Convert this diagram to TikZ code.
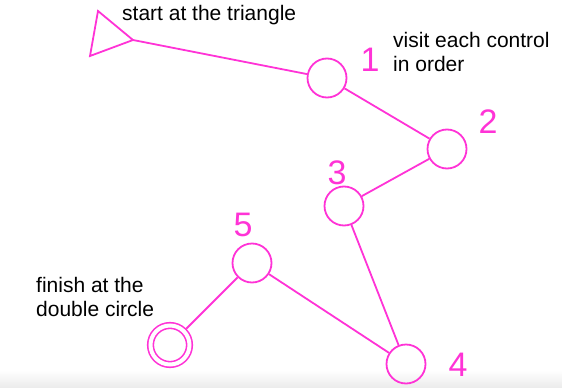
\documentclass[tikz,border=0pt]{standalone}
\usepackage{fontspec}
\setmainfont{Liberation Sans}
\usepackage{xcolor}
\usepackage{tikz}
\usetikzlibrary{positioning}
\definecolor{course}{RGB}{255,51,214}

\begin{document}
\begin{tikzpicture}[x=1pt, y=-1pt,
  ctrl/.style={circle, draw=course, line width=1.8pt, minimum size=39pt, inner sep=0pt},
  num/.style={text=course, font=\fontsize{34}{34}\selectfont, inner sep=0pt},
  note/.style={anchor=west, align=left, inner sep=0pt, font=\fontsize{21}{24}\selectfont}]
\useasboundingbox (0,0) rectangle (562,388);
\shade[top color=white, bottom color=black!8] (0,370) rectangle (562,388);
% start triangle
\coordinate (tri) at (133,40);
\draw[course, line width=1.8pt, line join=miter] (98,11) -- (tri) -- (90,56) -- cycle;
% controls
\node[ctrl] (c1) at (327,78) {};
\node[ctrl] (c2) at (447,149) {};
\node[ctrl] (c3) at (344,206) {};
\node[ctrl] (c4) at (406,364) {};
\node[ctrl] (c5) at (252,263) {};
\node[ctrl, double=white, double distance=4pt, line width=1.6pt, outer sep=3.6pt] (fin) at (170,345) {};
\foreach \a/\b in {tri/c1, c1/c2, c2/c3, c3/c4, c4/c5, c5/fin}
  \draw[course, line width=1.8pt] (\a) -- (\b);
% numbers
\node[num] (n1) at (370,60) {1};
\node[num] (n2) at (488,122) {2};
\node[num] (n3) at (337,173) {3};
\node[num] (n4) at (458,365) {4};
\node[num] (n5) at (243,225) {5};
% notes
\node[note] (start) at (122,15) {start at the triangle};
\node[note] (visit) at (393,52) {visit each control\\in order};
\node[note] (finish) at (36,297) {finish at the\\double circle};
\end{tikzpicture}
\end{document}
